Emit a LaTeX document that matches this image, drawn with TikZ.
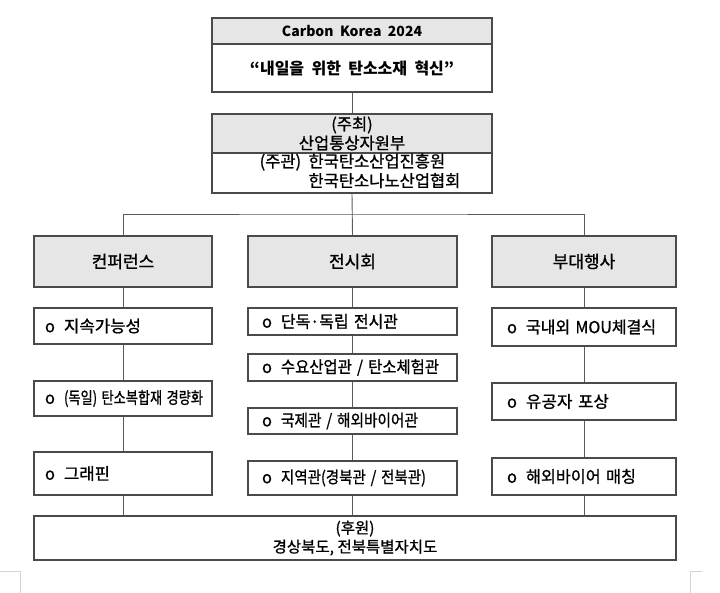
\documentclass[tikz,border=0pt]{standalone}
\usepackage{fontspec}
\setmainfont{Noto Sans CJK KR}
\newfontfamily\medfont{Noto Sans CJK KR}[FakeBold=1.0]
\usepackage{graphicx}
\definecolor{boxline}{HTML}{4A4A4A}
\definecolor{hdrfill}{HTML}{E6E6E6}
\definecolor{linkline}{HTML}{5A5A5A}
\definecolor{markgray}{HTML}{D4D4D4}
% bullet item: width of the text part fitted to the reference
\newcommand{\itm}[2]{\mbox{\makebox[19pt][l]{o}\resizebox{#1pt}{\height}{#2}}}
\tikzset{
  box/.style={draw=boxline, line width=1.1pt, rectangle, inner sep=0pt,
    font=\medfont\fontsize{16.5}{19}\selectfont},
  hdr/.style={box, fill=hdrfill},
  citem/.style={box, align=left, text width=156pt, inner xsep=11pt},
  eitem/.style={box, align=left, text width=181pt, inner xsep=14pt},
  vitem/.style={box, align=left, text width=154pt, inner xsep=15pt},
  colhdr/.style={hdr, font=\medfont\fontsize{17}{20}\selectfont},
  link/.style={draw=linkline, line width=0.9pt},
  cropmark/.style={draw=markgray, line width=0.8pt}
}
\begin{document}
\begin{tikzpicture}[x=1pt, y=-1pt]
\useasboundingbox (0,0) rectangle (720,593);

% top box
\node[hdr, minimum width=280, minimum height=26, font=\fontsize{14}{17}\selectfont\bfseries]
  (title) at (352,31) {Carbon~ Korea~ 2024};
\node[box, minimum width=280, minimum height=48, font=\fontsize{16}{19}\selectfont\bfseries]
  (slogan) at (352,68) {“내일을\ \ 위한\ \ 탄소소재\ \ 혁신”};

% host / organizer
\node[hdr, minimum width=280, minimum height=39, align=center]
  (host) at (352,133.5) {(주최)\\산업통상자원부};
\node[box, minimum width=280, minimum height=40, align=left]
  (org) at (352,173) {\hspace*{16pt}\begin{tabular}{@{}l@{\ \ }l@{}}(주관) & 한국탄소산업진흥원\\ & 한국탄소나노산업협회\end{tabular}};

% column headers
\node[colhdr, minimum width=178, minimum height=51] (conf) at (123,261.5) {컨퍼런스};
\node[colhdr, minimum width=209, minimum height=51] (exh) at (352.5,261.5) {전시회};
\node[colhdr, minimum width=184, minimum height=51] (evt) at (584,261.5) {부대행사};

% conference items
\node[citem, minimum height=36] (c1) at (123,326) {\itm{77}{지속가능성}};
\node[citem, minimum height=35] (c2) at (123,398.5) {\itm{139}{(독일) 탄소복합재 경량화}};
\node[citem, minimum height=43] (c3) at (123,473.5) {\itm{46}{그래핀}};

% exhibition items
\node[eitem, minimum height=27] (e1) at (352.5,321.5) {\itm{117}{단독·독립 전시관}};
\node[eitem, minimum height=27] (e2) at (352.5,367.5) {\itm{158}{수요산업관 / 탄소체험관}};
\node[eitem, minimum height=26] (e3) at (352.5,421) {\itm{137}{국제관 / 해외바이어관}};
\node[eitem, minimum height=34] (e4) at (352.5,478) {\itm{145}{지역관(경북관 / 전북관)}};

% event items
\node[vitem, minimum height=38] (v1) at (584,327) {\itm{130}{국내외 MOU체결식}};
\node[vitem, minimum height=37] (v2) at (584,401.5) {\itm{83}{유공자 포상}};
\node[vitem, minimum height=37] (v3) at (584,476.5) {\itm{110}{해외바이어 매칭}};

% sponsor
\node[box, minimum width=642, minimum height=44, align=center,
  font=\medfont\fontsize{15.5}{19}\selectfont] (spons) at (355,538) {(후원)\\경상북도, 전북특별자치도};

% connectors
\coordinate (bus) at (352.5,214);
\draw[link] (slogan.south) -- (host.north);
\draw[link] (org.south) -- (exh.north);
\draw[link] (conf.north) |- (bus) -| (evt.north);

\draw[link] (conf.south) -- (c1.north);
\draw[link] (c1.south) -- (c2.north);
\draw[link] (c2.south) -- (c3.north);
\draw[link] (c3.south) -- (c3.south |- spons.north);

\draw[link] (exh.south) -- (e1.north);
\draw[link] (e1.south) -- (e2.north);
\draw[link] (e2.south) -- (e3.north);
\draw[link] (e3.south) -- (e4.north);
\draw[link] (e4.south) -- (e4.south |- spons.north);

\draw[link] (evt.south) -- (v1.north);
\draw[link] (v1.south) -- (v2.north);
\draw[link] (v2.south) -- (v3.north);
\draw[link] (v3.south) -- (v3.south |- spons.north);

% page crop marks
\draw[cropmark] (0,571) -- (20,571) -- (20,593);
\draw[cropmark] (702,571) -- (690,571) -- (690,593);
\end{tikzpicture}
\end{document}
